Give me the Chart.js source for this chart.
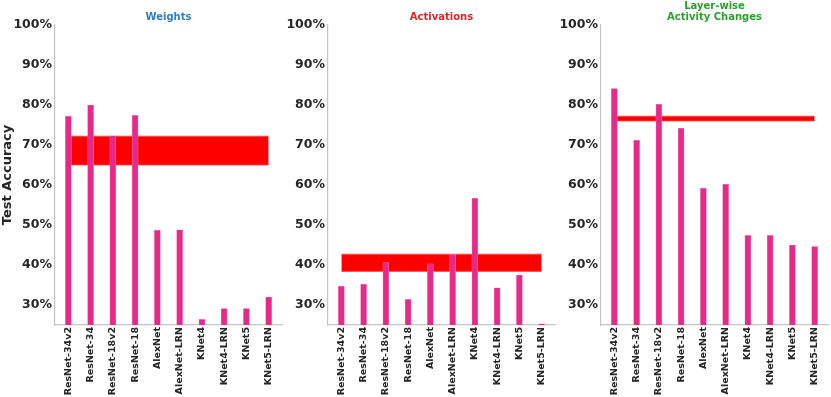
<!DOCTYPE html>
<html>
<head>
<meta charset="utf-8">
<script src="https://cdn.jsdelivr.net/npm/chart.js@4.4.1/dist/chart.umd.min.js"></script>
<style>
  body { margin: 0; background: #fff; }
  .panel { position: absolute; top: 0; }
</style>
</head>
<body>
<div class="panel" style="left:0px"><canvas id="weights" width="284" height="397"></canvas></div>
<div class="panel" style="left:280px"><canvas id="activations" width="278" height="397"></canvas></div>
<div class="panel" style="left:555px"><canvas id="layerwise" width="276" height="397"></canvas></div>

<script>
// models on the x axis
var models = ["ResNet-34v2", "ResNet-34", "ResNet-18v2", "ResNet-18", "AlexNet",
              "AlexNet-LRN", "KNet4", "KNet4-LRN", "KNet5", "KNet5-LRN"];

// test accuracy (%) per model
var weights_acc     = [77.2, 80.0, 72.3, 77.4, 48.7, 48.8, 26.4, 29.1, 29.1, 32.0];
var activations_acc = [34.7, 35.2, 40.6, 31.4, 40.3, 42.7, 56.7, 34.3, 37.5, 25.3];
var layerwise_acc   = [84.1, 71.2, 80.2, 74.2, 59.2, 60.2, 47.4, 47.4, 45.0, 44.6];

// red band [low, high] per panel
var weights_band     = [65.0, 72.2];
var activations_band = [38.4, 42.7];
var layerwise_band   = [76.0, 77.2];

var y_ticks = [30, 40, 50, 60, 70, 80, 90, 100];
var y_min = 25, y_max = 100;

Chart.defaults.font.family = "'DejaVu Sans', sans-serif";
Chart.defaults.color = "#262626";

function make_chart(id, values, band, title, titleColor, showYTitle, yWidth, padRight) {
  var titleLines = title.split("\n");
  var titlePad = titleLines.length > 1 ? {top: 0.5, bottom: 2.5} : {top: 11.5, bottom: 2.5};
  var last = models.length - 1;
  return new Chart(document.getElementById(id), {
    type: "bar",
    data: {
      datasets: [
        {
          type: "bar",
          data: values.map(function(v, i) { return { x: i, y: v }; }),
          backgroundColor: "#e7298a",
          borderColor: "#f08cbd",
          borderWidth: 0.6,
          barThickness: 6,
          order: 0
        },
        {
          type: "line",
          data: [{ x: 0, y: band[0] }, { x: last, y: band[0] }],
          borderColor: "#ff4a4a",
          borderWidth: 0.8,
          pointRadius: 0,
          fill: false,
          order: 1
        },
        {
          type: "line",
          data: [{ x: 0, y: band[1] }, { x: last, y: band[1] }],
          borderColor: "#ff4a4a",
          borderWidth: 0.8,
          pointRadius: 0,
          backgroundColor: "#ff0000",
          fill: "-1",
          order: 2
        }
      ]
    },
    options: {
      responsive: false,
      animation: false,
      layout: { padding: { left: 0, right: padRight, top: 0, bottom: 0 } },
      plugins: {
        legend: { display: false },
        tooltip: { enabled: false },
        title: {
          display: true,
          text: titleLines,
          color: titleColor,
          fullSize: false,
          font: { size: 10, weight: "bold", lineHeight: 1.1 },
          padding: titlePad
        }
      },
      scales: {
        x: {
          type: "linear",
          min: -0.6,
          max: last + 0.6,
          offset: false,
          grid: { display: false, drawTicks: false },
          border: { display: true, color: "#c4c4c4", width: 1.2 },
          afterBuildTicks: function(scale) {
            scale.ticks = models.map(function(m, i) { return { value: i }; });
          },
          ticks: {
            minRotation: 90, maxRotation: 90, padding: 2, autoSkip: false,
            font: { size: 9.5, weight: "bold" }, color: "#262626",
            callback: function(v) { return models[v]; }
          },
          afterFit: function(scale) { scale.height = 72; }
        },
        y: {
          min: y_min,
          max: y_max,
          grid: { display: false, drawTicks: false },
          border: { display: true, color: "#c4c4c4", width: 1.2 },
          afterBuildTicks: function(scale) {
            scale.ticks = y_ticks.map(function(v) { return { value: v }; });
          },
          ticks: {
            padding: 3,
            font: { size: 12.5, weight: "bold" },
            color: "#262626",
            callback: function(v) { return v + "%"; }
          },
          title: {
            display: showYTitle,
            text: "Test Accuracy",
            color: "#262626",
            font: { size: 13, weight: "bold" },
            padding: { top: 0, bottom: 0 }
          },
          afterFit: function(scale) { scale.width = yWidth; }
        }
      }
    }
  });
}

var chart1 = make_chart("weights", weights_acc, weights_band, "Weights", "#2f7fc0", true, 55, 2);
var chart2 = make_chart("activations", activations_acc, activations_band, "Activations", "#d62728", false, 48, 3);
var chart3 = make_chart("layerwise", layerwise_acc, layerwise_band, "Layer-wise\nActivity Changes", "#2ca02c", false, 46, 3);
</script>
</body>
</html>
